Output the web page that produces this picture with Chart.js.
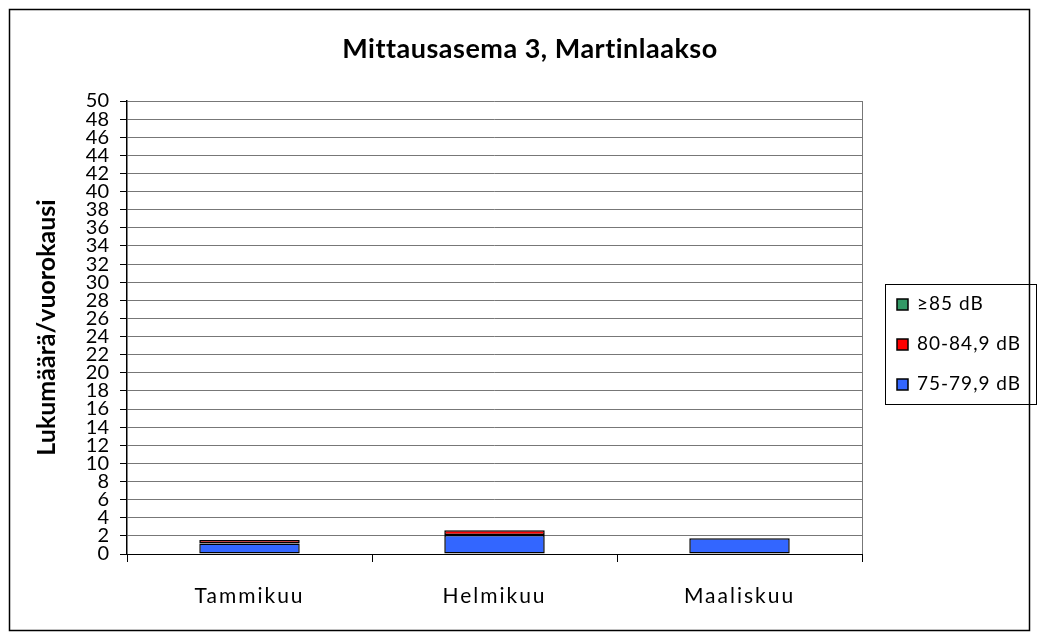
<!DOCTYPE html>
<html>
<head>
<meta charset="utf-8">
<script src="https://cdn.jsdelivr.net/npm/chart.js@4.4.1/dist/chart.umd.min.js"></script>
<style>
  html, body { margin: 0; padding: 0; background: #fff; }
  #wrap { width: 1039px; height: 639px; }
</style>
</head>
<body>
<div id="wrap"><canvas id="chart" width="1039" height="639"></canvas></div>
<script>
// Kuukaudet ja ylitysten määrät luokittain
const months = ['Tammikuu', 'Helmikuu', 'Maaliskuu'];
const level75 = [1.15, 2.1, 1.73];
const level80 = [0.4, 0.52, 0];
const level85 = [0, 0, 0];
const yTicks = { min: 0, max: 50, step: 2 };
const chartTitle = 'Mittausasema 3, Martinlaakso';

const fontName = 'Lato, "Open Sans", sans-serif';

// Kehys, otsikko ja oma selite oikealle
const framePlugin = {
    id: 'frame',
    beforeDraw(chart) {
        const ctx = chart.ctx;
        ctx.save();
        ctx.fillStyle = '#fff';
        ctx.fillRect(0, 0, chart.width, chart.height);
        ctx.restore();
    },
    afterDatasetsDraw(chart) {
        // x-akselin nimiöt piirretään tämän jälkeen harvennetulla välistyksellä
        chart.ctx.letterSpacing = '2px';
    },
    afterDraw(chart) {
        const ctx = chart.ctx;
        ctx.letterSpacing = '0px';
        ctx.save();
        ctx.strokeStyle = '#000';
        ctx.lineWidth = 1.5;
        ctx.strokeRect(9.5, 9.5, 1020, 621);

        // otsikko
        ctx.fillStyle = '#000';
        ctx.font = 'bold 27px ' + fontName;
        ctx.textAlign = 'center';
        ctx.textBaseline = 'middle';
        ctx.letterSpacing = '0.5px';
        ctx.fillText(chartTitle, 530, 49);
        ctx.letterSpacing = '0px';

        // selite
        const lx = 885, ly = 284, lw = 151, lh = 120;
        ctx.lineWidth = 1;
        ctx.strokeRect(lx + 0.5, ly + 0.5, lw, lh);
        const rows = chart.data.datasets.slice().reverse();
        const rowY = [304, 344, 384];
        ctx.font = '19px ' + fontName;
        ctx.textAlign = 'left';
        rows.forEach((ds, i) => {
            const y = rowY[i];
            ctx.fillStyle = ds.backgroundColor;
            ctx.fillRect(897, y - 5, 11, 11);
            ctx.lineWidth = 1.5;
            ctx.strokeStyle = '#000';
            ctx.strokeRect(897, y - 5, 11, 11);
            ctx.fillStyle = '#000';
            ctx.letterSpacing = '1px';
            ctx.fillText(ds.label, 917, y);
            ctx.letterSpacing = '0px';
        });
        ctx.restore();
    }
};

new Chart(document.getElementById('chart'), {
    type: 'bar',
    data: {
        labels: months,
        datasets: [
            {
                label: '75-79,9 dB',
                data: level75,
                backgroundColor: '#3366FF',
                borderColor: '#000',
                borderWidth: 1.5,
                borderSkipped: false
            },
            {
                label: '80-84,9 dB',
                data: level80,
                backgroundColor: '#FF0000',
                borderColor: '#000',
                borderWidth: 1.5,
                borderSkipped: false
            },
            {
                label: '\u226585 dB',
                data: level85,
                backgroundColor: '#339966',
                borderColor: '#000',
                borderWidth: 1.5,
                borderSkipped: false
            }
        ]
    },
    options: {
        responsive: false,
        animation: false,
        layout: { padding: { left: 10, right: 177, top: 101, bottom: 0 } },
        datasets: {
            bar: { barPercentage: 0.41, categoryPercentage: 1 }
        },
        plugins: {
            legend: { display: false },
            tooltip: { enabled: false },
            title: { display: false }
        },
        scales: {
            x: {
                stacked: true,
                grid: {
                    display: true,
                    offset: true,
                    drawOnChartArea: false,
                    drawTicks: true,
                    tickLength: 8,
                    color: '#000'
                },
                border: { display: true, color: '#000', width: 1 },
                ticks: {
                    z: 1,
                    color: '#000',
                    font: { family: fontName, size: 21 },
                    padding: 22
                },
                afterFit(scale) { scale.height = 639 - 554; }
            },
            y: {
                stacked: true,
                min: yTicks.min,
                max: yTicks.max,
                grid: {
                    color: '#777',
                    lineWidth: 1,
                    drawTicks: true,
                    tickLength: 7,
                    tickColor: '#000'
                },
                border: { display: true, color: '#000', width: 1.5 },
                ticks: {
                    stepSize: yTicks.step,
                    autoSkip: false,
                    color: '#000',
                    padding: 11,
                    font: { family: fontName, size: 20, lineHeight: 1 }
                },
                title: {
                    display: true,
                    text: 'Lukumäärä/vuorokausi',
                    color: '#000',
                    font: { family: fontName, size: 25, weight: 'bold' },
                    padding: { top: 22, bottom: 0 }
                },
                afterFit(scale) { scale.width = 117; }
            }
        }
    },
    plugins: [framePlugin, {
        // oikea pystyreuna piirtoalueelle
        id: 'plotEdge',
        beforeDatasetsDraw(chart) {
            const a = chart.chartArea;
            const ctx = chart.ctx;
            ctx.save();
            ctx.strokeStyle = '#777';
            ctx.lineWidth = 1;
            ctx.beginPath();
            ctx.moveTo(Math.round(a.right) + 0.5, a.top);
            ctx.lineTo(Math.round(a.right) + 0.5, a.bottom);
            ctx.stroke();
            ctx.restore();
        }
    }]
});
</script>
</body>
</html>
